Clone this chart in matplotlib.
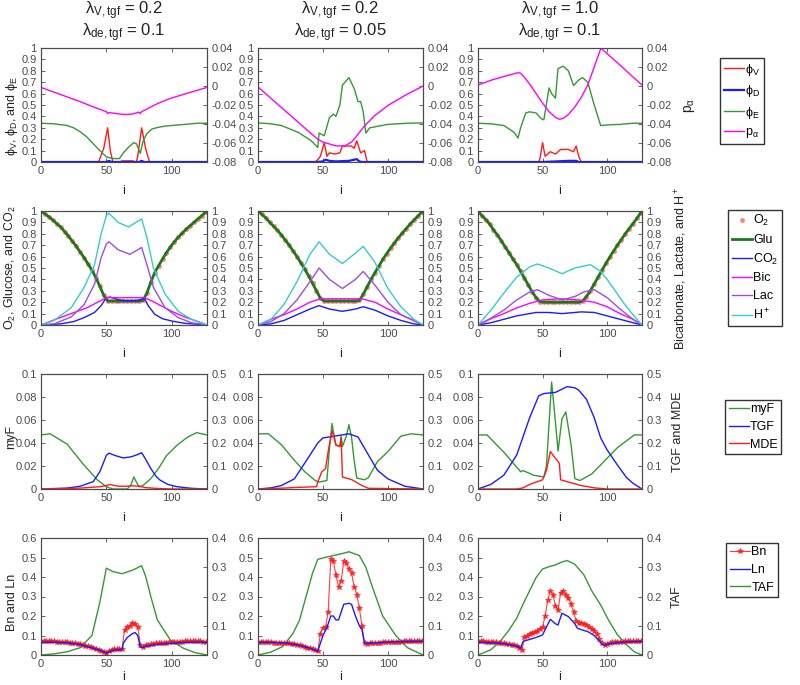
import matplotlib
matplotlib.use('Agg')
import matplotlib.pyplot as plt
from matplotlib.ticker import FuncFormatter

plt.rcParams['font.family'] = ['Liberation Sans', 'DejaVu Sans']
plt.rcParams['mathtext.fontset'] = 'custom'
plt.rcParams['mathtext.rm'] = 'Liberation Sans'
plt.rcParams['mathtext.it'] = 'Liberation Sans:italic'
plt.rcParams['mathtext.bf'] = 'Liberation Sans:bold'

# ---------------- column titles ----------------
lam_v = ['0.2', '0.2', '1.0']
lam_de = ['0.1', '0.05', '0.1']

# ---------------- Row 1: phi_V, phi_D, phi_E (left), p_alpha (right) ----------------
phiV_i = [[0, 44, 48, 51, 53, 55, 60, 62, 70, 73, 74, 77, 80, 83, 127],
          [0, 44, 46, 48, 51, 53, 55, 59, 63, 65, 72, 74, 76, 79, 82, 84, 127],
          [0, 47, 48, 50, 52, 56, 60, 64, 70, 74, 76, 78, 80, 127]]
phiV = [[0, 0, 0.12, 0.3, 0.1, 0, 0, 0.01, 0.01, 0, 0.05, 0.3, 0.12, 0, 0],
        [0, 0, 0.02, 0.05, 0.17, 0.05, 0.08, 0.07, 0.08, 0.14, 0.14, 0.12, 0.186, 0.08, 0.1, 0, 0],
        [0, 0, 0.03, 0.17, 0.05, 0.09, 0.07, 0.11, 0.11, 0.09, 0.14, 0.05, 0, 0]]
phiD_i = [[0, 50, 52, 54, 75, 77, 79, 127],
          [0, 45, 50, 52, 55, 60, 70, 74, 76, 78, 80, 127],
          [0, 50, 60, 70, 76, 78, 127]]
phiD = [[0, 0, 0.01, 0, 0, 0.01, 0, 0],
        [0, 0, 0.005, 0.02, 0.01, 0.005, 0.01, 0.02, 0.025, 0.005, 0, 0],
        [0, 0, 0.005, 0.01, 0.01, 0, 0]]
phiE_i = [[0, 10, 20, 25, 30, 35, 40, 45, 50, 55, 60, 63, 67, 71, 73, 76, 78, 81, 85, 90, 95, 100, 110, 120, 127],
          [0, 10, 18, 31, 41, 46, 47, 51, 55, 58, 60, 63, 65, 70, 74, 77, 79, 81, 83, 86, 100, 115, 127],
          [0, 10, 20, 28, 31, 33, 37, 40, 45, 49, 51, 55, 57, 60, 61, 62, 66, 70, 74, 78, 81, 85, 90, 95, 100, 110, 120, 127]]
phiE = [[0.34, 0.335, 0.32, 0.3, 0.265, 0.22, 0.16, 0.1, 0.045, 0.03, 0.03, 0.08, 0.13, 0.17, 0.16, 0.075, 0.18, 0.25, 0.29, 0.305, 0.315, 0.32, 0.33, 0.34, 0.34],
        [0.343, 0.335, 0.32, 0.26, 0.186, 0.127, 0.254, 0.23, 0.39, 0.42, 0.4, 0.5, 0.675, 0.74, 0.645, 0.53, 0.53, 0.44, 0.254, 0.3, 0.33, 0.34, 0.343],
        [0.34, 0.335, 0.32, 0.26, 0.21, 0.3, 0.43, 0.44, 0.43, 0.38, 0.37, 0.65, 0.6, 0.56, 0.7, 0.82, 0.84, 0.8, 0.67, 0.72, 0.74, 0.7, 0.5, 0.32, 0.325, 0.33, 0.34, 0.34]]
palpha_i = [[0, 10, 20, 30, 40, 50, 51, 52, 55, 60, 65, 70, 75, 76, 77, 80, 84, 90, 99, 112, 127],
            [0, 10, 20, 30, 40, 46, 50, 55, 60, 67, 72, 74, 82, 90, 100, 113, 127],
            [0, 10, 20, 31, 33, 36, 40, 45, 50, 55, 60, 63, 66, 70, 75, 80, 85, 90, 95, 96, 100, 110, 120, 127]]
palpha = [[-0.0015, -0.0065, -0.0115, -0.0165, -0.022, -0.027, -0.029, -0.028, -0.0285, -0.0295, -0.03, -0.0295, -0.0275, -0.029, -0.027, -0.025, -0.022, -0.018, -0.013, -0.0076, -0.0015],
          [-0.001, -0.013, -0.025, -0.037, -0.049, -0.056, -0.059, -0.061, -0.063, -0.063, -0.059, -0.056, -0.042, -0.031, -0.0205, -0.01, 0.0],
          [0.001, 0.006, 0.01, 0.014, 0.0135, 0.009, 0.002, -0.008, -0.018, -0.027, -0.033, -0.035, -0.034, -0.03, -0.022, -0.012, 0.001, 0.02, 0.039, 0.039, 0.034, 0.022, 0.0095, 0.001]]

# ---------------- Row 2: O2, Glu, CO2 (left), Bic, Lac, H+ (right) ----------------
o2_i = list(range(0, 127, 3)) + [127]
o2 = [[1.0, 0.975, 0.95, 0.92, 0.89, 0.86, 0.82, 0.78, 0.735, 0.69, 0.64, 0.59, 0.535, 0.48, 0.415, 0.34, 0.26, 0.21, 0.21, 0.21,
       0.21, 0.21, 0.21, 0.21, 0.21, 0.21, 0.215, 0.28, 0.375, 0.46, 0.52, 0.58, 0.635, 0.685, 0.73, 0.77, 0.805, 0.84, 0.87, 0.9,
       0.93, 0.96, 0.99, 1.0],
      [1.0, 0.97, 0.94, 0.9, 0.865, 0.83, 0.79, 0.745, 0.7, 0.65, 0.6, 0.545, 0.49, 0.43, 0.365, 0.3, 0.235, 0.21, 0.21, 0.21,
       0.21, 0.21, 0.21, 0.21, 0.21, 0.21, 0.215, 0.27, 0.335, 0.4, 0.46, 0.515, 0.575, 0.625, 0.675, 0.72, 0.765, 0.805, 0.845, 0.885,
       0.92, 0.955, 0.99, 1.0],
      [1.0, 0.96, 0.925, 0.885, 0.835, 0.79, 0.74, 0.685, 0.635, 0.58, 0.53, 0.47, 0.41, 0.35, 0.29, 0.24, 0.205, 0.2, 0.2, 0.2,
       0.2, 0.2, 0.2, 0.2, 0.2, 0.2, 0.2, 0.21, 0.25, 0.3, 0.36, 0.42, 0.48, 0.54, 0.595, 0.65, 0.7, 0.75, 0.8, 0.845,
       0.89, 0.935, 0.985, 1.0]]
glu = [list(v) for v in o2]  # glucose coincides with O2 in every panel
co2_i = [[0, 15, 25, 33, 41, 46, 50, 53, 60, 67, 74, 79, 82, 87, 93, 100, 110, 127],
         [0, 10, 20, 30, 40, 47, 55, 65, 75, 81, 90, 100, 110, 120, 127],
         [0, 10, 20, 30, 45, 55, 65, 80, 90, 100, 110, 120, 127]]
co2 = [[0, 0.01, 0.03, 0.065, 0.11, 0.17, 0.24, 0.245, 0.22, 0.21, 0.215, 0.235, 0.17, 0.094, 0.055, 0.035, 0.015, 0],
       [0, 0.01, 0.04, 0.09, 0.14, 0.17, 0.14, 0.12, 0.14, 0.16, 0.13, 0.08, 0.04, 0.01, 0],
       [0, 0.02, 0.05, 0.08, 0.11, 0.11, 0.1, 0.115, 0.11, 0.08, 0.05, 0.02, 0]]
bic_i = [[0, 10, 23, 35, 45, 50, 60, 70, 79, 85, 90, 100, 110, 120, 127],
         [0, 10, 20, 30, 40, 48, 64, 80, 90, 100, 110, 120, 127],
         [0, 10, 20, 30, 40, 50, 64, 78, 90, 100, 110, 120, 127]]
bic = [[0, 0.045, 0.1, 0.15, 0.21, 0.24, 0.24, 0.24, 0.24, 0.21, 0.18, 0.12, 0.07, 0.03, 0],
       [0, 0.05, 0.09, 0.14, 0.2, 0.23, 0.23, 0.23, 0.2, 0.14, 0.09, 0.04, 0],
       [0, 0.055, 0.1, 0.15, 0.19, 0.22, 0.23, 0.22, 0.2, 0.16, 0.1, 0.05, 0]]
lac_i = [[0, 10, 23, 33, 41, 46, 50, 52, 59, 68, 74, 77, 81, 86, 95, 105, 115, 127],
         [0, 10, 20, 30, 40, 47, 55, 65, 75, 81, 90, 100, 110, 127],
         [0, 10, 20, 30, 40, 46, 55, 65, 75, 82, 90, 100, 110, 120, 127]]
lac = [[0, 0.01, 0.07, 0.18, 0.36, 0.59, 0.71, 0.73, 0.66, 0.62, 0.66, 0.68, 0.53, 0.33, 0.15, 0.065, 0.02, 0],
       [0, 0.03, 0.1, 0.22, 0.38, 0.5, 0.4, 0.32, 0.4, 0.47, 0.35, 0.2, 0.09, 0],
       [0, 0.06, 0.13, 0.22, 0.29, 0.31, 0.26, 0.22, 0.25, 0.29, 0.31, 0.24, 0.14, 0.05, 0]]
hplus_i = [[0, 10, 23, 33, 41, 46, 50, 52, 59, 67, 74, 77, 81, 86, 95, 105, 115, 127],
           [0, 10, 20, 30, 40, 47, 55, 65, 75, 81, 90, 100, 110, 120, 127],
           [0, 10, 20, 30, 40, 46, 55, 65, 75, 87, 95, 100, 105, 113, 120, 127]]
hplus = [[0, 0.04, 0.15, 0.33, 0.53, 0.8, 0.96, 0.98, 0.9, 0.86, 0.91, 0.93, 0.77, 0.5, 0.27, 0.12, 0.05, 0],
         [0, 0.05, 0.18, 0.38, 0.62, 0.73, 0.62, 0.54, 0.63, 0.69, 0.55, 0.32, 0.16, 0.05, 0],
         [0, 0.13, 0.28, 0.42, 0.51, 0.535, 0.5, 0.45, 0.5, 0.53, 0.47, 0.4, 0.32, 0.19, 0.09, 0]]

# ---------------- Row 3: myF (left), TGF, MDE (right) ----------------
myF_i = [[0, 7, 20, 32, 43, 50, 55, 60, 66, 69, 71, 73, 75, 78, 84, 90, 96, 104, 112, 119, 127],
         [0, 8, 18, 28, 36, 44, 47, 53, 55, 57, 58, 60, 63, 64, 65, 68, 70, 72, 74, 76, 82, 85, 92, 100, 110, 118, 127],
         [0, 7, 20, 33, 35, 43, 51, 53, 57, 59, 62, 65, 68, 72, 75, 79, 88, 95, 108, 121, 127]]
myF = [[0.047, 0.048, 0.039, 0.022, 0.008, 0.002, 0.0, 0.0, 0.0, 0.004, 0.0105, 0.006, 0.002, 0.003, 0.009, 0.018, 0.029, 0.038, 0.045, 0.049, 0.047],
       [0.048, 0.048, 0.0385, 0.025, 0.015, 0.0074, 0.006, 0.0074, 0.0355, 0.057, 0.05, 0.0385, 0.037, 0.046, 0.037, 0.046, 0.056, 0.045, 0.025, 0.0095, 0.008, 0.01, 0.024, 0.0325, 0.046, 0.048, 0.047],
       [0.047, 0.047, 0.032, 0.015, 0.016, 0.012, 0.0104, 0.02, 0.093, 0.07, 0.033, 0.061, 0.067, 0.039, 0.009, 0.0074, 0.013, 0.021, 0.036, 0.047, 0.047]]
tgf_i = [[0, 20, 30, 40, 45, 50, 52, 57, 63, 69, 74, 77, 80, 84, 88, 91, 97, 104, 115, 127],
         [0, 10, 18, 28, 38, 46, 50, 59, 70, 77, 85, 92, 100, 113, 127],
         [0, 10, 20, 30, 40, 47, 51, 60, 69, 75, 78, 84, 90, 95, 100, 108, 115, 120, 127]]
tgf = [[0, 0.004, 0.012, 0.032, 0.075, 0.146, 0.156, 0.145, 0.135, 0.14, 0.15, 0.158, 0.13, 0.089, 0.055, 0.039, 0.02, 0.01, 0.003, 0],
       [0, 0.005, 0.015, 0.044, 0.13, 0.2, 0.222, 0.23, 0.24, 0.226, 0.148, 0.081, 0.044, 0.012, 0],
       [0, 0.02, 0.06, 0.148, 0.31, 0.405, 0.415, 0.42, 0.445, 0.44, 0.43, 0.39, 0.31, 0.222, 0.17, 0.104, 0.05, 0.025, 0]]
mde_i = [[0, 20, 30, 40, 45, 50, 53, 56, 60, 65, 70, 75, 80, 90, 100, 127],
         [0, 20, 30, 45, 46, 49, 52, 54, 57, 60, 63, 64, 65, 72, 80, 85, 127],
         [0, 30, 35, 40, 45, 50, 53, 56, 59, 62, 63, 64, 70, 80, 90, 100, 127]]
mde = [[0, 0.002, 0.004, 0.008, 0.01, 0.015, 0.02, 0.015, 0.012, 0.012, 0.014, 0.012, 0.006, 0.002, 0.0, 0],
       [0, 0.004, 0.007, 0.01, 0.03, 0.074, 0.089, 0.163, 0.254, 0.19, 0.185, 0.222, 0.052, 0.041, 0.015, 0.003, 0],
       [0, 0, 0.005, 0.02, 0.03, 0.04, 0.08, 0.163, 0.14, 0.12, 0.11, 0.04, 0.03, 0.015, 0.005, 0, 0]]

# ---------------- Row 4: Bn, Ln (left), TAF (right) ----------------
bn_i = list(range(0, 127, 2))
bn = [[0.07, 0.07, 0.07, 0.07, 0.07, 0.07, 0.069, 0.068, 0.067, 0.066,
       0.065, 0.063, 0.061, 0.059, 0.057, 0.055, 0.051, 0.048, 0.044, 0.04,
       0.036, 0.032, 0.027, 0.022, 0.016, 0.01, 0.02, 0.028, 0.03, 0.03,
       0.03, 0.031, 0.13, 0.145, 0.15, 0.165, 0.16, 0.145, 0.05, 0.042,
       0.05, 0.053, 0.056, 0.058, 0.06, 0.061, 0.062, 0.063, 0.064, 0.065,
       0.066, 0.067, 0.068, 0.068, 0.069, 0.07, 0.07, 0.07, 0.071, 0.071,
       0.07, 0.07, 0.069, 0.068],
      [0.065, 0.065, 0.065, 0.065, 0.065, 0.065, 0.064, 0.064, 0.063, 0.063,
       0.062, 0.061, 0.06, 0.058, 0.055, 0.052, 0.049, 0.046, 0.042, 0.038,
       0.034, 0.03, 0.024, 0.018, 0.11, 0.14, 0.145, 0.22, 0.49, 0.48,
       0.41, 0.35, 0.38, 0.48, 0.47, 0.44, 0.42, 0.35, 0.31, 0.24,
       0.15, 0.06, 0.058, 0.06, 0.061, 0.062, 0.063, 0.064, 0.065, 0.066,
       0.067, 0.067, 0.068, 0.068, 0.069, 0.069, 0.07, 0.07, 0.07, 0.07,
       0.07, 0.07, 0.07, 0.07],
      [0.07, 0.07, 0.07, 0.069, 0.068, 0.067, 0.066, 0.065, 0.063, 0.062,
       0.06, 0.058, 0.055, 0.052, 0.05, 0.045, 0.035, 0.025, 0.09, 0.1,
       0.11, 0.115, 0.12, 0.125, 0.135, 0.145, 0.2, 0.28, 0.33, 0.31,
       0.25, 0.23, 0.32, 0.33, 0.31, 0.29, 0.26, 0.22, 0.175, 0.165,
       0.165, 0.16, 0.155, 0.145, 0.135, 0.125, 0.11, 0.08, 0.06, 0.05,
       0.058, 0.062, 0.065, 0.066, 0.067, 0.068, 0.069, 0.07, 0.07, 0.07,
       0.07, 0.07, 0.07, 0.07]]
ln_i = [[0, 10, 20, 30, 40, 45, 50, 52, 55, 62, 63, 66, 70, 72, 74, 75, 76, 78, 80, 90, 100, 110, 120, 127],
        [0, 10, 20, 30, 40, 45, 46, 47, 50, 53, 56, 58, 60, 62, 64, 66, 70, 72, 75, 78, 80, 82, 90, 100, 110, 127],
        [0, 10, 20, 30, 33, 35, 40, 45, 50, 52, 56, 60, 62, 65, 70, 75, 77, 80, 85, 90, 97, 100, 110, 127]]
ln = [[0.065, 0.066, 0.062, 0.053, 0.035, 0.024, 0.01, 0.015, 0.025, 0.028, 0.06, 0.09, 0.11, 0.115, 0.1, 0.07, 0.04, 0.038, 0.045, 0.055, 0.06, 0.065, 0.066, 0.065],
      [0.065, 0.065, 0.062, 0.053, 0.035, 0.022, 0.018, 0.04, 0.1, 0.14, 0.2, 0.2, 0.18, 0.18, 0.22, 0.26, 0.265, 0.26, 0.2, 0.15, 0.13, 0.06, 0.062, 0.066, 0.068, 0.07],
      [0.065, 0.063, 0.058, 0.045, 0.035, 0.07, 0.08, 0.09, 0.103, 0.13, 0.183, 0.16, 0.154, 0.214, 0.197, 0.16, 0.137, 0.13, 0.12, 0.1, 0.05, 0.055, 0.065, 0.07]]
taf_i = [[0, 10, 20, 30, 39, 45, 50, 55, 62, 70, 77, 80, 84, 89, 99, 109, 118, 127],
         [0, 10, 19, 27, 32, 37, 42, 46, 51, 58, 65, 70, 78, 83, 88, 96, 106, 115, 127],
         [0, 10, 17, 24, 30, 35, 40, 45, 50, 55, 60, 65, 69, 75, 82, 88, 95, 101, 108, 115, 121, 127]]
taf = [[0, 0.004, 0.011, 0.025, 0.067, 0.18, 0.297, 0.285, 0.278, 0.29, 0.305, 0.27, 0.2, 0.12, 0.051, 0.023, 0.008, 0],
       [0, 0.01, 0.029, 0.074, 0.12, 0.2, 0.28, 0.327, 0.333, 0.34, 0.347, 0.353, 0.34, 0.3, 0.233, 0.133, 0.067, 0.025, 0],
       [0, 0.018, 0.046, 0.085, 0.126, 0.175, 0.22, 0.265, 0.294, 0.302, 0.308, 0.318, 0.323, 0.31, 0.274, 0.22, 0.171, 0.12, 0.069, 0.035, 0.011, 0]]

# ---------------- axis tick values ----------------
x_ticks = [0, 50, 100]
r1_left_ticks = [0, 0.1, 0.2, 0.3, 0.4, 0.5, 0.6, 0.7, 0.8, 0.9, 1]
r1_right_ticks = [-0.08, -0.06, -0.04, -0.02, 0, 0.02, 0.04]
r2_ticks = [0, 0.1, 0.2, 0.3, 0.4, 0.5, 0.6, 0.7, 0.8, 0.9, 1]
r3_left_ticks = [0, 0.02, 0.04, 0.06, 0.08, 0.1]
r3_right_ticks = [0, 0.1, 0.2, 0.3, 0.4, 0.5]
r4_left_ticks = [0, 0.1, 0.2, 0.3, 0.4, 0.5, 0.6]
r4_right_ticks = [0, 0.1, 0.2, 0.3, 0.4]

# ---------------- styling ----------------
RED = '#ff1a1a'
BLUE = '#1a1aff'
GREEN = '#339933'
GLU = '#1a7a1a'
MAG = '#ff00ff'
PURP = '#9a4de6'
CYAN = '#33cccc'
AXC = '#4a4a4a'
TXT = '#222222'
LW = 1.0

W, H = 800, 685
fig = plt.figure(figsize=(W / 100, H / 100), dpi=100)

col_x = [(41, 207), (258, 423), (478, 642)]
row_y = [(48, 162), (211, 325), (374, 489), (538, 655)]
xlabel_gap = [23, 23, 23, 16]

fmt = FuncFormatter(lambda v, p: ('%g' % round(v, 4)))


def make_axes(r, c):
    x0, x1 = col_x[c]
    y0, y1 = row_y[r]
    ax = fig.add_axes([x0 / W, 1 - y1 / H, (x1 - x0) / W, (y1 - y0) / H])
    ax2 = ax.twinx()
    for a in (ax, ax2):
        for s in a.spines.values():
            s.set_color(AXC)
            s.set_linewidth(0.8)
        a.tick_params(direction='in', length=3, width=0.6, colors=AXC, labelsize=8, pad=3)
        a.yaxis.set_major_formatter(fmt)
    ax.tick_params(axis='x', top=True)
    ax.set_xlim(0, 127)
    ax.set_xticks(x_ticks)
    ax.set_xlabel('i', fontsize=9, color=TXT)
    ax.xaxis.set_label_coords(0.5, -xlabel_gap[r] / (y1 - y0))
    return ax, ax2


legend_centers = [(742, 101), (755, 268), (753, 427), (752, 570)]


def add_legend(r, handles, labels):
    cx, cy = legend_centers[r]
    leg = fig.legend(handles, labels, loc='center', bbox_to_anchor=(cx / W, 1 - cy / H),
                     fontsize=9, frameon=True, fancybox=False, framealpha=1,
                     edgecolor='#333333', handlelength=1.6, handletextpad=0.1,
                     labelspacing=0.45, borderpad=0.3, borderaxespad=0)
    leg.get_frame().set_linewidth(1.0)


# ylabel anchor positions (left: right edge of rotated text, right: left edge)
left_lab_x = [-0.125, -0.139, -0.145, -0.139]
left_lab_y = [0.4, 0.5, 0.45, 0.45]
right_lab_x = [0.244, 0.189, 0.183, 0.177]


def left_label(ax, r, text):
    ax.set_ylabel(text, fontsize=9, color=TXT)
    ax.yaxis.set_label_coords(left_lab_x[r], left_lab_y[r])


def right_label(ax2, r, text, fs=9):
    ax2.set_ylabel(text, fontsize=fs, color=TXT)
    ax2.yaxis.set_label_coords(1 + right_lab_x[r], 0.5)


for c in range(3):
    # titles
    cx = (col_x[c][0] + col_x[c][1]) / 2 / W
    fig.text(cx, 1 - 11 / H, r'$\mathrm{\lambda_{V,tgf}}$ = ' + lam_v[c], ha='center', va='center', fontsize=12, color=TXT)
    fig.text(cx, 1 - 33 / H, r'$\mathrm{\lambda_{de,tgf}}$ = ' + lam_de[c], ha='center', va='center', fontsize=12, color=TXT)

    # Row 1
    ax, ax2 = make_axes(0, c)
    h1, = ax.plot(phiV_i[c], phiV[c], color=RED, lw=LW)
    h2, = ax.plot(phiD_i[c], phiD[c], color=BLUE, lw=1.6)
    h3, = ax.plot(phiE_i[c], phiE[c], color=GREEN, lw=LW)
    h4, = ax2.plot(palpha_i[c], palpha[c], color=MAG, lw=LW)
    ax.set_ylim(0, 1)
    ax.set_yticks(r1_left_ticks)
    ax2.set_ylim(-0.08, 0.04)
    ax2.set_yticks(r1_right_ticks)
    if c == 0:
        left_label(ax, 0, r'$\mathrm{\phi_V}$, $\mathrm{\phi_D}$, and $\mathrm{\phi_E}$')
    if c == 2:
        right_label(ax2, 0, r'p$_\mathrm{\alpha}$', fs=10)
        add_legend(0, [h1, h2, h3, h4], [r'$\mathrm{\phi_V}$', r'$\mathrm{\phi_D}$', r'$\mathrm{\phi_E}$', r'p$_\mathrm{\alpha}$'])

    # Row 2
    ax, ax2 = make_axes(1, c)
    g1, = ax.plot(o2_i, o2[c], 'o', color=RED, ms=3.5, alpha=0.55, mec='none')
    g2, = ax.plot(o2_i, glu[c], '-', color=GLU, lw=2.0)
    g3, = ax.plot(co2_i[c], co2[c], color=BLUE, lw=LW)
    g4, = ax2.plot(bic_i[c], bic[c], color=MAG, lw=LW)
    g5, = ax2.plot(lac_i[c], lac[c], color=PURP, lw=LW)
    g6, = ax2.plot(hplus_i[c], hplus[c], color=CYAN, lw=LW)
    ax.set_ylim(0, 1)
    ax.set_yticks(r2_ticks)
    ax2.set_ylim(0, 1)
    ax2.set_yticks(r2_ticks)
    if c == 0:
        left_label(ax, 1, r'O$_2$, Glucose, and CO$_2$')
    if c == 2:
        right_label(ax2, 1, r'Bicarbonate, Lactate, and H$^+$')
        add_legend(1, [g1, g2, g3, g4, g5, g6], ['O$_2$', 'Glu', 'CO$_2$', 'Bic', 'Lac', 'H$^+$'])

    # Row 3
    ax, ax2 = make_axes(2, c)
    k1, = ax.plot(myF_i[c], myF[c], color=GREEN, lw=LW)
    k2, = ax2.plot(tgf_i[c], tgf[c], color=BLUE, lw=LW)
    k3, = ax2.plot(mde_i[c], mde[c], color=RED, lw=LW)
    ax.set_ylim(0, 0.1)
    ax.set_yticks(r3_left_ticks)
    ax2.set_ylim(0, 0.5)
    ax2.set_yticks(r3_right_ticks)
    if c == 0:
        left_label(ax, 2, 'myF')
    if c == 2:
        right_label(ax2, 2, 'TGF and MDE')
        add_legend(2, [k1, k2, k3], ['myF', 'TGF', 'MDE'])

    # Row 4
    ax, ax2 = make_axes(3, c)
    m3, = ax2.plot(taf_i[c], taf[c], color=GREEN, lw=LW)
    m1, = ax.plot(bn_i, bn[c], '*-', color=RED, lw=0.8, ms=4, mew=0.6, alpha=0.85)
    m2, = ax.plot(ln_i[c], ln[c], color=BLUE, lw=LW)
    ax.set_zorder(ax2.get_zorder() + 1)
    ax.patch.set_visible(False)
    ax.set_ylim(0, 0.6)
    ax.set_yticks(r4_left_ticks)
    ax2.set_ylim(0, 0.4)
    ax2.set_yticks(r4_right_ticks)
    if c == 0:
        left_label(ax, 3, 'Bn and Ln')
    if c == 2:
        right_label(ax2, 3, 'TAF')
        add_legend(3, [m1, m2, m3], ['Bn', 'Ln', 'TAF'])

fig.savefig('out.png', dpi=100)
